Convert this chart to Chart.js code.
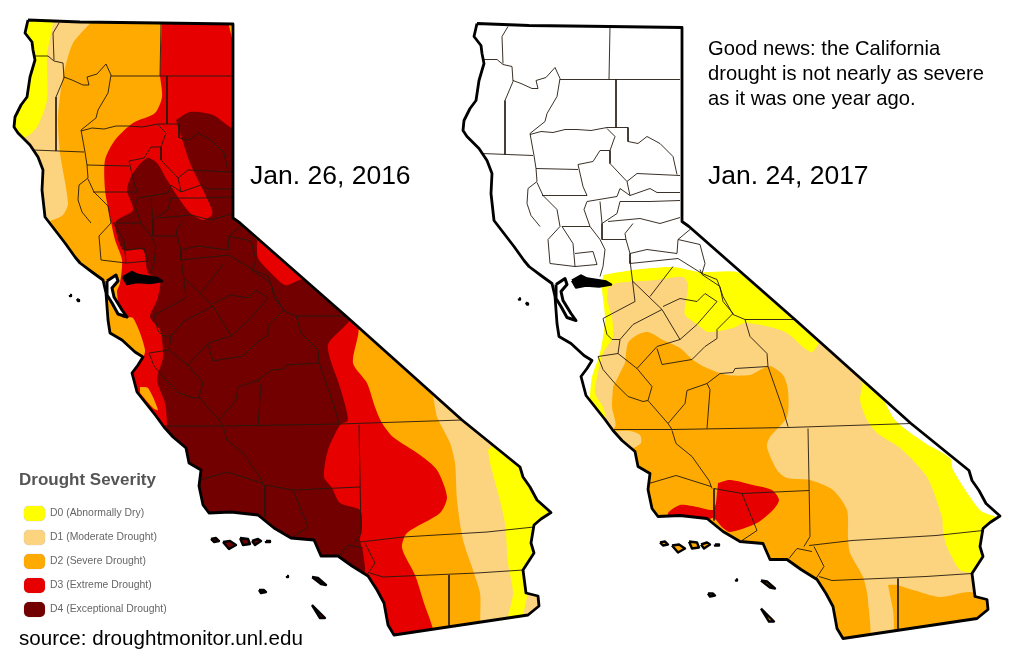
<!DOCTYPE html>
<html>
<head>
<meta charset="utf-8">
<title>California drought</title>
<script src="https://cdn.jsdelivr.net/npm/chart.js@4"></script>
<style>
  html, body { margin: 0; padding: 0; background: #fff; }
  #wrap { position: relative; width: 1024px; height: 659px; overflow: hidden; font-family: "Liberation Sans", Arial, sans-serif; }
  canvas { position: absolute; left: 0; top: 0; }
  .t { position: absolute; white-space: nowrap; color: #000; }
  .date { font-size: 26.5px; }
  .note { font-size: 20.2px; line-height: 25.2px; }
  .key { position: absolute; left: 24px; width: 21px; height: 15px; border-radius: 5px; box-shadow: 0 0 1px #999; }
  .keytxt { font-size: 10.4px; color: #666; left: 50px; }
</style>
</head>
<body>
<div id="wrap">
  <canvas id="map" width="1024" height="659"></canvas>
  <div class="t date" style="left:250px;top:160px">Jan. 26, 2016</div>
  <div class="t date" style="left:708px;top:160px">Jan. 24, 2017</div>
  <div class="t note" style="left:708px;top:36px">Good news: the California<br>drought is not nearly as severe<br>as it was one year ago.</div>
  <div class="t" style="left:19px;top:470px;font-size:17px;font-weight:bold;color:#555">Drought Severity</div>
  <div class="t" style="left:19px;top:626px;font-size:20.6px">source: droughtmonitor.unl.edu</div>
  <div id="legend"></div>
</div>
<script>
// legend
const categories = ['D0 (Abnormally Dry)', 'D1 (Moderate Drought)', 'D2 (Severe Drought)', 'D3 (Extreme Drought)', 'D4 (Exceptional Drought)'];
const colors = ['#ffff00', '#fcd37f', '#ffaa00', '#e60000', '#730000'];

// state and counties. right map is the same shape moved over
const RIGHT_DX = 449, RIGHT_DY = 3.5;
const stateOutline = [[28,20],[80,22],[160,23],[233,24],[233,218],[240,223],[347,317],[462,420],[520,467],[523,477],[530,487],[537,500],[551,512.5],[541,519],[534,525],[531,543],[534,553],[523,570],[526,593],[538,596],[539,606],[528,615],[394,635],[388,625],[384,603],[377,590],[368,576],[352,566],[338,556],[321,556],[314,540],[291,538],[274,528],[258,515],[231,512],[209,513],[203,505],[199,486],[201,470],[189,463],[186,448],[173,437],[164,427],[156,416],[137,392],[132,373],[138,365],[143,357],[135,352],[122,340],[110,333],[108,320],[106,293],[103,280],[92,272],[80,263],[75,257],[65,243],[55,230],[45,217],[42,190],[43,170],[38,157],[30,145],[18,133],[14,127],[15,117],[21,105],[27,97],[30,77],[35,60],[33,50],[32,42],[25,33]];
const countyLines = [
  [[59,23],[53,33],[54,60]],
  [[34,56],[48,56],[54,61],[63,63],[64,78],[56,97],[56,151]],
  [[64,77],[72,80],[83,85],[89,85],[87,77],[97,74],[106,64],[111,75],[108,93],[98,110],[96,118],[81,130]],
  [[161,23],[160,76]],
  [[111,76],[231,76]],
  [[167,76],[167,124]],
  [[81,131],[92,128],[104,129],[116,126],[128,126],[142,127],[158,124],[179,124],[179,138],[189,140],[198,133],[211,140],[224,153],[228,171]],
  [[33,150],[84,152]],
  [[81,130],[85,152],[87,165],[88,178],[79,185],[78,200],[82,212],[91,223]],
  [[87,165],[129,166]],
  [[158,125],[166,133],[161,147],[151,147],[144,158],[129,161],[134,183],[138,192]],
  [[161,147],[161,160],[178,178],[181,192],[171,185],[168,193],[138,198]],
  [[93,192],[138,192]],
  [[88,179],[94,192],[108,206],[111,223],[99,236],[101,260],[126,263]],
  [[138,198],[135,206],[141,223],[151,236]],
  [[151,198],[153,220],[168,210],[171,198],[201,198],[231,197]],
  [[178,178],[188,170],[231,172]],
  [[181,192],[201,185],[208,189],[231,189]],
  [[159,218],[191,215],[211,220],[231,214]],
  [[153,220],[153,236],[177,236],[181,250],[181,260]],
  [[177,236],[176,230],[184,220]],
  [[181,250],[198,246],[228,250],[229,236],[241,226]],
  [[229,236],[251,241],[256,260],[253,270],[268,276],[274,293],[284,311],[296,316],[301,333],[318,350],[319,363],[334,406],[339,423]],
  [[181,260],[229,255],[253,270]],
  [[113,223],[141,223]],
  [[113,223],[124,240],[126,263]],
  [[126,250],[144,248],[148,261],[126,263]],
  [[151,236],[156,246],[154,263],[151,273]],
  [[224,263],[201,293]],
  [[181,257],[186,298],[154,315],[158,331],[163,336],[171,336],[169,350],[188,365]],
  [[184,278],[213,306],[231,336]],
  [[213,306],[184,321],[171,336]],
  [[214,303],[231,295],[248,298],[256,290],[268,298],[248,321],[231,336],[208,343],[188,365]],
  [[208,345],[213,361],[243,356],[256,343],[268,335],[268,326],[284,310]],
  [[251,266],[253,271],[271,283],[274,298],[284,310]],
  [[296,316],[344,316]],
  [[319,363],[286,365],[284,369],[271,370],[258,380],[238,387],[236,400],[219,420]],
  [[258,380],[261,386],[258,425]],
  [[188,365],[203,383],[199,397],[194,398],[179,393],[166,380],[154,366],[149,353],[169,350]],
  [[199,397],[219,420],[223,426]],
  [[165,426],[223,426],[339,424],[462,420]],
  [[359,425],[361,533],[355,543]],
  [[265,485],[293,490],[360,487]],
  [[293,490],[308,527],[293,537]],
  [[265,485],[265,517]],
  [[360,542],[403,537],[487,532],[534,527]],
  [[365,543],[375,563],[367,575]],
  [[340,555],[348,545],[363,548]],
  [[370,573],[383,577],[477,573],[523,570]],
  [[449,575],[449,626]],
  [[223,427],[227,440],[243,453],[260,477],[263,485]],
  [[200,480],[227,472],[262,483]]
];
const sfBay = [[107,281],[116,275],[118,281],[112,288],[114,297],[122,310],[127,317],[118,314],[112,303],[107,295]];
const delta = [[123,277],[132,272],[138,275],[157,278],[162,281],[150,283],[137,282],[127,284]];
const islands = [
  [[211,539],[216,538],[219,541],[214,542]],
  [[223,542],[230,541],[236,545],[229,549]],
  [[240,538],[248,539],[250,544],[243,545]],
  [[252,541],[258,539],[261,541],[255,545]],
  [[266,541],[270,541],[270,542],[266,542]],
  [[287,576],[288,576],[288,577],[287,577]],
  [[259,590],[264,590],[266,592],[261,593]],
  [[312,577],[318,578],[326,585],[321,584]],
  [[312,605],[317,610],[325,618],[320,618]],
  [[70,295],[71,295],[71,296],[70,296]],
  [[77,299],[79,300],[79,301],[78,301]]
];

// drought areas, left map 2016 (drawn on top of each other, mild first)
const left2016D0 = [[20,15],[52,15],[47,55],[47,100],[37,127],[25,137],[5,132],[5,50]];
const left2016D1 = [[48,15],[95,15],[73,43],[63,77],[58,117],[60,153],[68,203],[63,215],[48,222],[30,232],[0,130]];
const left2016D1East = [[425,385],[432,393],[437,417],[442,427],[450,443],[455,463],[457,500],[463,540],[473,570],[480,593],[485,640],[570,640],[570,450]];
const left2016D0East = [[488,450],[490,463],[498,493],[505,523],[508,563],[513,593],[508,622],[520,622],[527,597],[530,580],[570,520],[530,460],[497,442]];
const left2016D3 = [[162,15],[240,15],[240,225],[357,322],[353,363],[367,383],[375,407],[382,423],[393,437],[420,455],[437,470],[447,497],[440,513],[407,533],[402,548],[415,575],[423,600],[433,640],[380,650],[290,600],[130,450],[120,375],[140,363],[145,350],[133,318],[122,317],[117,292],[120,283],[122,260],[115,240],[110,217],[105,190],[105,160],[115,140],[133,123],[155,113],[162,97],[160,76]];
const left2016D2Corner = [[227,18],[238,18],[238,42],[232,38]];
const left2016D2Spot = [[140,387],[148,388],[158,410],[153,408],[140,393]];
const left2016D4 = [[176,120],[190,112],[213,115],[232,128],[245,128],[245,225],[350,316],[328,345],[340,387],[348,420],[340,425],[328,450],[324,477],[332,488],[340,503],[360,510],[362,527],[360,540],[363,552],[364,578],[340,590],[200,540],[165,440],[167,425],[165,403],[157,380],[163,357],[160,330],[150,317],[157,300],[160,280],[148,273],[143,250],[123,250],[115,227],[117,220],[133,210],[127,190],[133,173],[147,158],[157,163],[167,180],[180,200],[190,213],[203,220],[212,215],[212,210],[203,190],[190,163],[180,133]];
const left2016D3Patch = [[257,240],[258,258],[270,272],[285,285],[297,281],[310,275],[270,232]];

// drought areas, right map 2017
const right2017D0 = [[603,275],[633,270],[673,267],[700,272],[737,272],[760,285],[790,285],[830,325],[880,393],[895,420],[925,443],[950,458],[953,470],[980,510],[997,517],[1012,520],[1012,650],[800,655],[590,450],[590,397],[592,377],[600,353],[605,320],[602,290]];
const right2017D1 = [[608,288],[617,283],[657,280],[683,277],[688,285],[685,307],[685,315],[698,325],[708,332],[733,328],[745,323],[770,327],[787,333],[803,347],[812,352],[820,342],[830,335],[862,382],[860,400],[867,420],[877,433],[900,448],[927,477],[942,517],[943,530],[947,547],[960,570],[972,573],[990,580],[1010,600],[1010,650],[800,655],[590,450],[606,423],[603,407],[595,393],[598,373],[603,353],[613,337],[612,318],[607,300]];
const right2017D2 = [[625,363],[628,343],[637,335],[648,332],[663,340],[680,348],[693,360],[707,368],[727,375],[750,375],[760,370],[770,366],[783,375],[788,390],[787,417],[770,437],[767,447],[777,470],[787,478],[810,480],[833,490],[847,510],[848,538],[850,553],[863,577],[868,600],[867,650],[800,660],[590,445],[615,427],[612,407],[613,387]];
const right2017D1Spot = [[612,431],[630,431],[640,435],[641,443],[632,448],[620,441]];
const right2017D2East = [[888,585],[897,585],[913,590],[940,597],[970,592],[990,600],[1010,640],[900,650],[893,610]];
const right2017D3 = [[718,483],[730,480],[753,485],[772,490],[779,500],[773,510],[757,523],[730,532],[722,527],[713,518],[697,526],[670,518],[668,513],[680,505],[697,507],[713,510],[716,503]];

const toPts = (arr, dx = 0, dy = 0) => arr.map(p => ({ x: p[0] + dx, y: p[1] + dy }));

const datasets = [];
const area = (arr, color, tension = 0.25) => datasets.push({
  data: toPts(arr), showLine: true, fill: 'shape', backgroundColor: color,
  borderWidth: 0, pointRadius: 0, tension: tension
});
const line = (arr, dx, dy, width, color, fillColor) => datasets.push({
  data: toPts(arr, dx, dy), showLine: true,
  fill: fillColor ? 'shape' : false, backgroundColor: fillColor || 'transparent',
  borderColor: color, borderWidth: width, pointRadius: 0, tension: 0, borderJoinStyle: 'round'
});
const closed = arr => arr.concat([arr[0]]);

// these get clipped to the state shape
area(stateOutline, colors[2], 0);
area(left2016D1, colors[1]);
area(left2016D0, colors[0]);
area(left2016D1East, colors[1]);
area(left2016D0East, colors[0]);
area(left2016D3, colors[3]);
area(left2016D2Corner, colors[2], 0);
area(left2016D2Spot, colors[2]);
area(left2016D4, colors[4]);
area(left2016D3Patch, colors[3]);
area(right2017D0, colors[0]);
area(right2017D1, colors[1]);
area(right2017D2, colors[2]);
area(right2017D1Spot, colors[1]);
area(right2017D2East, colors[2]);
area(right2017D3, colors[3]);
const clippedCount = datasets.length;

// lines on top, not clipped
[[0, 0, colors[4]], [RIGHT_DX, RIGHT_DY, colors[2]]].forEach(m => {
  countyLines.forEach(c => line(c, m[0], m[1], 0.9, '#241a10'));
  line(closed(stateOutline), m[0], m[1], 2.8, '#000');
  line(closed(sfBay), m[0], m[1], 3, '#000', '#fff');
  line(closed(delta), m[0], m[1], 2.5, '#000', '#000');
  islands.forEach(i => line(closed(i), m[0], m[1], 2.4, '#000', m[2]));
});
datasets.forEach((d, i) => { d.order = datasets.length - i; });

// clip the drought fills to both state shapes
const stateClip = {
  id: 'stateClip',
  beforeDatasetsDraw(chart) {
    const { ctx, scales } = chart;
    ctx.save();
    ctx.beginPath();
    [[0, 0], [RIGHT_DX, RIGHT_DY]].forEach(m => {
      stateOutline.forEach((p, i) => {
        const px = scales.x.getPixelForValue(p[0] + m[0]);
        const py = scales.y.getPixelForValue(p[1] + m[1]);
        if (i === 0) ctx.moveTo(px, py); else ctx.lineTo(px, py);
      });
      ctx.closePath();
    });
    ctx.clip();
    this.open = true;
  },
  beforeDatasetDraw(chart, args) {
    if (this.open && args.index >= clippedCount) {
      chart.ctx.restore();
      this.open = false;
    }
  }
};

new Chart(document.getElementById('map'), {
  type: 'scatter',
  data: { datasets },
  plugins: [stateClip],
  options: {
    responsive: false,
    animation: false,
    devicePixelRatio: 1,
    layout: { padding: 0 },
    scales: {
      x: { type: 'linear', min: 0, max: 1024, display: false },
      y: { type: 'linear', min: 0, max: 659, reverse: true, display: false }
    },
    elements: { line: { capBezierPoints: false } },
    plugins: { legend: { display: false }, tooltip: { enabled: false } }
  }
});

// legend keys
const legendTop = [513, 537, 561, 585, 609];
document.getElementById('legend').innerHTML = categories.map((c, i) =>
  '<div class="key" style="top:' + (legendTop[i] - 7.5) + 'px;background:' + colors[i] + '"></div>' +
  '<div class="t keytxt" style="top:' + (legendTop[i] - 6) + 'px">' + c + '</div>').join('');
</script>
</body>
</html>
